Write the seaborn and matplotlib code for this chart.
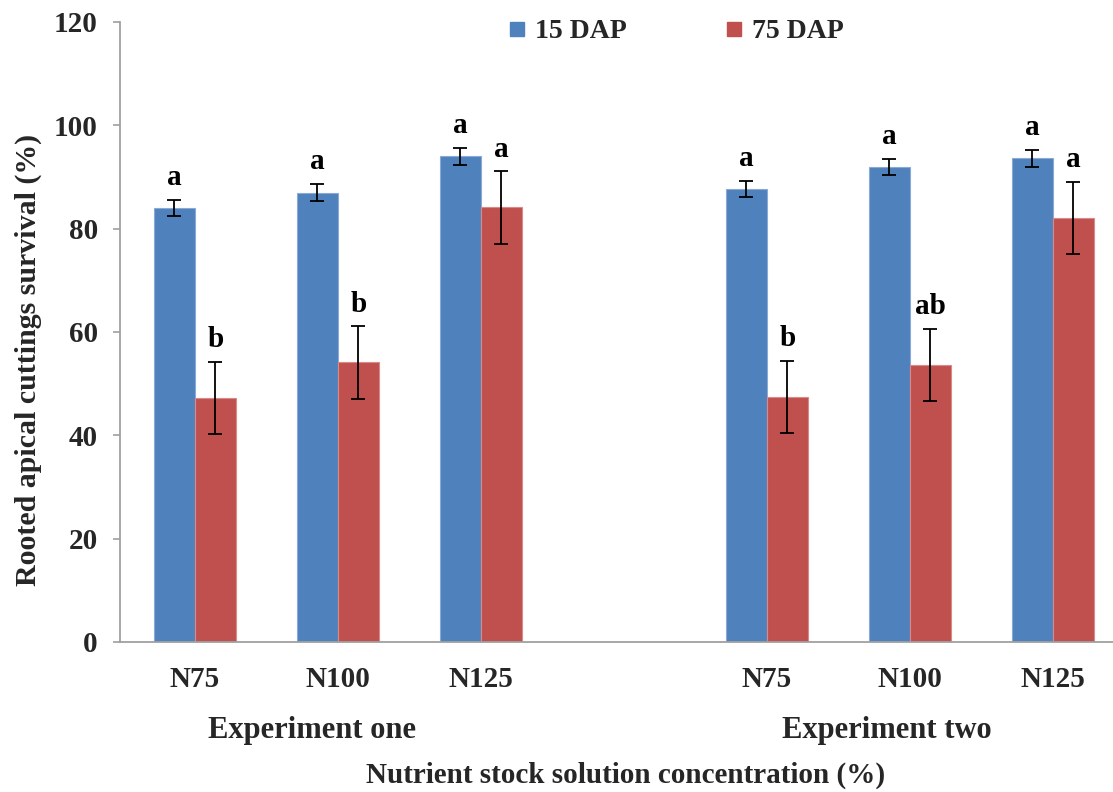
import matplotlib
matplotlib.use("Agg")
import matplotlib.pyplot as plt
from matplotlib.lines import Line2D
from matplotlib.container import BarContainer
import seaborn as sns
import pandas as pd

# Treatments (two experiments, each with three nutrient levels)
experiments = ["Experiment one", "Experiment one", "Experiment one",
               "Experiment two", "Experiment two", "Experiment two"]
treatments = ["N75", "N100", "N125", "N75", "N100", "N125"]
stages = ["15 DAP", "75 DAP"]

# Survival (%) and standard error by sampling date
survival_15 = [84.0, 87.0, 94.0, 87.7, 91.9, 93.6]
survival_75 = [47.2, 54.1, 84.1, 47.4, 53.6, 82.1]
se_15 = [1.6, 1.6, 1.6, 1.6, 1.6, 1.6]
se_75 = [7.0, 7.0, 7.0, 7.0, 7.0, 7.0]

# Mean separation letters
letters_15 = ["a", "a", "a", "a", "a", "a"]
letters_75 = ["b", "b", "a", "b", "ab", "a"]

colors = ["#4F81BD", "#C0504D"]
edge_colors = ["#8BAAD3", "#D98A88"]

sns.set_style("white")
plt.rcParams["font.family"] = ["Liberation Serif", "DejaVu Serif"]
plt.rcParams["font.weight"] = "bold"

# unique slot keys, with an empty slot separating the two experiments
slots = [f"{e}|{t}" for e, t in zip(experiments, treatments)]
order = slots[:3] + ["gap"] + slots[3:]

df = pd.DataFrame({
    "slot": slots * 2,
    "stage": [stages[0]] * 6 + [stages[1]] * 6,
    "survival": survival_15 + survival_75,
})

fig = plt.figure(figsize=(11.13, 7.92), dpi=100)
ax = fig.add_axes([120 / 1113, 1 - 642 / 792, 1 - 120 / 1113, (642 - 22) / 792])

sns.barplot(data=df, x="slot", y="survival", hue="stage", order=order,
            hue_order=stages, palette=colors, width=0.574, gap=0,
            errorbar=None, saturation=1, legend=False, ax=ax)

bar_groups = [c for c in ax.containers if isinstance(c, BarContainer)]
errs = [se_15, se_75]
vals = [survival_15, survival_75]
letters = [letters_15, letters_75]
for k, container in enumerate(bar_groups):
    for bar, v, e, lab in zip(container, vals[k], errs[k], letters[k]):
        bar.set_edgecolor(edge_colors[k])
        bar.set_linewidth(0.8)
        xc = bar.get_x() + bar.get_width() / 2
        ax.errorbar(xc, v, yerr=e, fmt="none", ecolor="black",
                    elinewidth=1.3, capsize=4.7, capthick=1.3, zorder=3)
        ax.text(xc, v + e + 1.7, lab, ha="center", va="bottom",
                fontsize=21, fontweight="bold", color="black")

ax.set_ylim(0, 120)
ax.set_xlim(-0.524, 6.42)
ax.set_yticks(range(0, 121, 20))
ax.set_xticks([0, 1, 2, 4, 5, 6])
ax.set_xticklabels(treatments)
ax.tick_params(axis="y", length=5, width=1.2, color="#A0A0A0", pad=11,
               labelsize=21, direction="out", left=True)
ax.tick_params(axis="x", length=0, pad=17, labelsize=21)
for lbl in ax.get_xticklabels() + ax.get_yticklabels():
    lbl.set_fontweight("bold")
ax.set_xlabel("")
ax.set_ylabel("")

for side in ["top", "right"]:
    ax.spines[side].set_visible(False)
for side in ["left", "bottom"]:
    ax.spines[side].set_color("#A0A0A0")
    ax.spines[side].set_linewidth(1.3)

# experiment group labels
ax.text(0.818, -0.142, "Experiment one", transform=ax.get_xaxis_transform(),
        ha="center", va="center", fontsize=22, fontweight="bold")
ax.text(4.84, -0.142, "Experiment two", transform=ax.get_xaxis_transform(),
        ha="center", va="center", fontsize=22, fontweight="bold")

fig.text(626 / 1113, 1 - 775 / 792, "Nutrient stock solution concentration (%)",
         ha="center", va="center", fontsize=21, fontweight="bold")
fig.text(28 / 1113, 1 - 360 / 792, "Rooted apical cuttings survival (%)",
         ha="center", va="center", rotation=90, fontsize=21.5, fontweight="bold")

handles = [Line2D([0], [0], marker="s", linestyle="none", markersize=9.5,
                  markerfacecolor=c, markeredgecolor=c) for c in colors]
leg = fig.legend(handles, stages, loc="center", ncol=2, frameon=False,
                 bbox_to_anchor=(0.608, 0.96), bbox_transform=fig.transFigure,
                 handlelength=0.5, handletextpad=0.4, columnspacing=3.6,
                 prop={"size": 20, "weight": "bold"})

fig.savefig("out.png", dpi=100)
